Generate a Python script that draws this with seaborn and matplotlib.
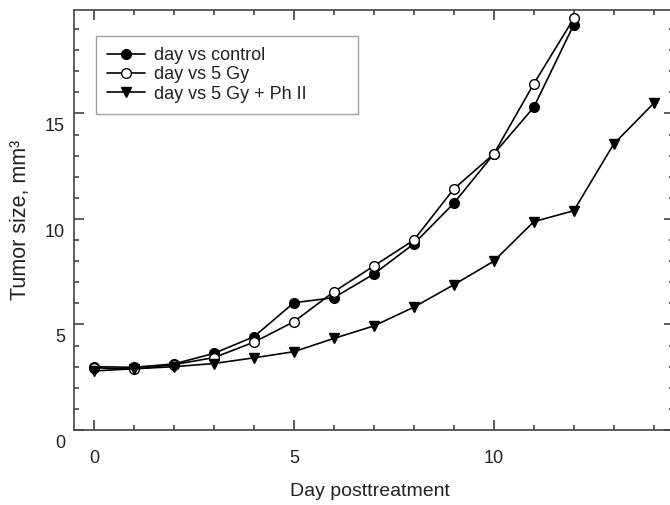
import matplotlib
matplotlib.use("Agg")
import matplotlib.pyplot as plt
import matplotlib.transforms as mtransforms
from matplotlib.ticker import MultipleLocator
import numpy as np
import pandas as pd
import seaborn as sns

# values
days = [0, 1, 2, 3, 4, 5, 6, 7, 8, 9, 10, 11, 12]
control = [3.0, 2.97, 3.13, 3.63, 4.42, 6.03, 6.27, 7.39, 8.82, 10.74, 13.08, 15.29, 19.2]
gy5 = [2.95, 2.88, 3.1, 3.43, 4.16, 5.13, 6.55, 7.77, 9.0, 11.42, 13.08, 16.4, 19.5]
days_ph = [0, 1, 2, 3, 4, 5, 6, 7, 8, 9, 10, 11, 12, 13, 14]
gy5_ph = [2.8, 2.9, 3.0, 3.15, 3.42, 3.71, 4.34, 4.93, 5.82, 6.88, 8.0, 9.87, 10.39, 13.55, 15.48]

labels = ["day vs control", "day vs 5 Gy", "day vs 5 Gy + Ph II"]

sns.set_theme(style="ticks")
plt.rcParams["font.family"] = ["Liberation Sans", "DejaVu Sans"]
plt.rcParams["text.color"] = "#222222"
plt.rcParams["axes.labelcolor"] = "#222222"
plt.rcParams["xtick.color"] = "#444444"
plt.rcParams["ytick.color"] = "#444444"
plt.rcParams["xtick.labelcolor"] = "#222222"
plt.rcParams["ytick.labelcolor"] = "#222222"

fig = plt.figure(figsize=(6.7, 5.05), dpi=100, facecolor="white")
ax = fig.add_axes([74 / 670, 75 / 505, 599.7 / 670, 420 / 505])

line_kw = dict(color="black", linewidth=1.2, markersize=7, markeredgecolor="black",
               markeredgewidth=1.0, ax=ax)

sns.lineplot(x=days, y=control, marker="o", markerfacecolor="black", label=labels[0], **line_kw)
sns.lineplot(x=days, y=gy5, marker="o", markerfacecolor="white", label=labels[1], **line_kw)
sns.lineplot(x=days_ph, y=gy5_ph, marker="v", markerfacecolor="black", label=labels[2],
             **{**line_kw, "markersize": 7.5})

ax.set_xlim(-0.5, 14.5)
ax.set_ylim(0, 19.9)
ax.xaxis.set_major_locator(MultipleLocator(5))
ax.xaxis.set_minor_locator(MultipleLocator(1))
ax.yaxis.set_major_locator(MultipleLocator(5))
ax.yaxis.set_minor_locator(MultipleLocator(1))

for side in ["left", "right", "top", "bottom"]:
    ax.spines[side].set_visible(True)
    ax.spines[side].set_color("#444444")
    ax.spines[side].set_linewidth(1.2)

ax.tick_params(which="both", direction="in", top=True, right=True, width=1.2)
ax.tick_params(which="major", length=7.5)
ax.tick_params(which="minor", length=3.8)
ax.tick_params(axis="x", which="major", pad=14.5, labelsize=13)
ax.tick_params(axis="y", which="major", pad=6.5, labelsize=13)

# y tick labels sit a bit below their ticks in the original
offset = mtransforms.ScaledTranslation(0, -11.5 / 100, fig.dpi_scale_trans)
for lab in ax.get_yticklabels():
    lab.set_transform(lab.get_transform() + offset)

ax.set_xlabel("Day posttreatment", fontsize=14)
ax.set_ylabel("Tumor size, mm³", fontsize=15.5)
ax.xaxis.set_label_coords(0.494, -0.125)
ax.yaxis.set_label_coords(-0.071, 0.5)

leg = ax.legend(loc="upper left", bbox_to_anchor=(95.7 / 670, 0.7756, 262.6 / 670, 0.153),
                bbox_transform=fig.transFigure, mode="expand", borderaxespad=0,
                fontsize=13, labelspacing=0.12, handlelength=2.1, handletextpad=0.5,
                frameon=True, fancybox=False, borderpad=0.62)
leg.get_frame().set_edgecolor("#888888")
leg.get_frame().set_linewidth(1.0)

fig.savefig("out.png", dpi=100, facecolor="white")
